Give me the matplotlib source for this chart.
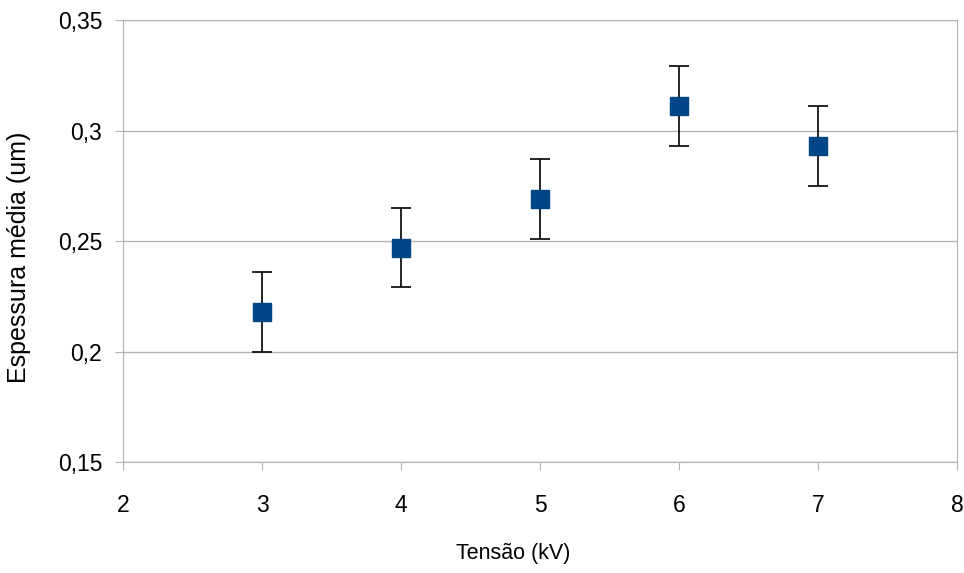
import matplotlib
matplotlib.use("Agg")
import matplotlib.pyplot as plt
from matplotlib.ticker import FuncFormatter

plt.rcParams["font.family"] = ["Liberation Sans", "DejaVu Sans"]

# ---- dados ----
tensao = [3, 4, 5, 6, 7]
espessura = [0.218, 0.247, 0.269, 0.311, 0.293]
erro = [0.018, 0.018, 0.018, 0.018, 0.018]

fig = plt.figure(figsize=(9.64, 5.73), dpi=100)
ax = fig.add_axes([0.1276, 0.1937, 0.8651, 0.7713])

ax.errorbar(tensao, espessura, yerr=erro, fmt="s", color="#004586",
            markersize=13, ecolor="black", elinewidth=1.2, capsize=7,
            capthick=1.2, zorder=3)

ax.set_xlim(2, 8)
ax.set_ylim(0.15, 0.35)
ax.set_xticks(range(2, 9))
ax.set_yticks([0.15, 0.2, 0.25, 0.3, 0.35])
ax.yaxis.set_major_formatter(FuncFormatter(lambda v, p: f"{v:g}".replace(".", ",")))
ax.yaxis.grid(True, color="#b3b3b3", linewidth=1)
ax.set_axisbelow(True)

for s in ax.spines.values():
    s.set_color("#b3b3b3")
ax.tick_params(axis="both", colors="#b3b3b3", labelcolor="black",
               labelsize=16.5, length=6, direction="out")
ax.tick_params(axis="x", pad=17)
ax.tick_params(axis="y", pad=9)

ax.set_xlabel("Tensão (kV)", fontsize=15.5)
ax.xaxis.set_label_coords(0.468, -0.183)
ax.set_ylabel("Espessura média (um)", fontsize=18)
ax.yaxis.set_label_coords(-0.11, 0.464)

plt.savefig("out.png", dpi=100)
